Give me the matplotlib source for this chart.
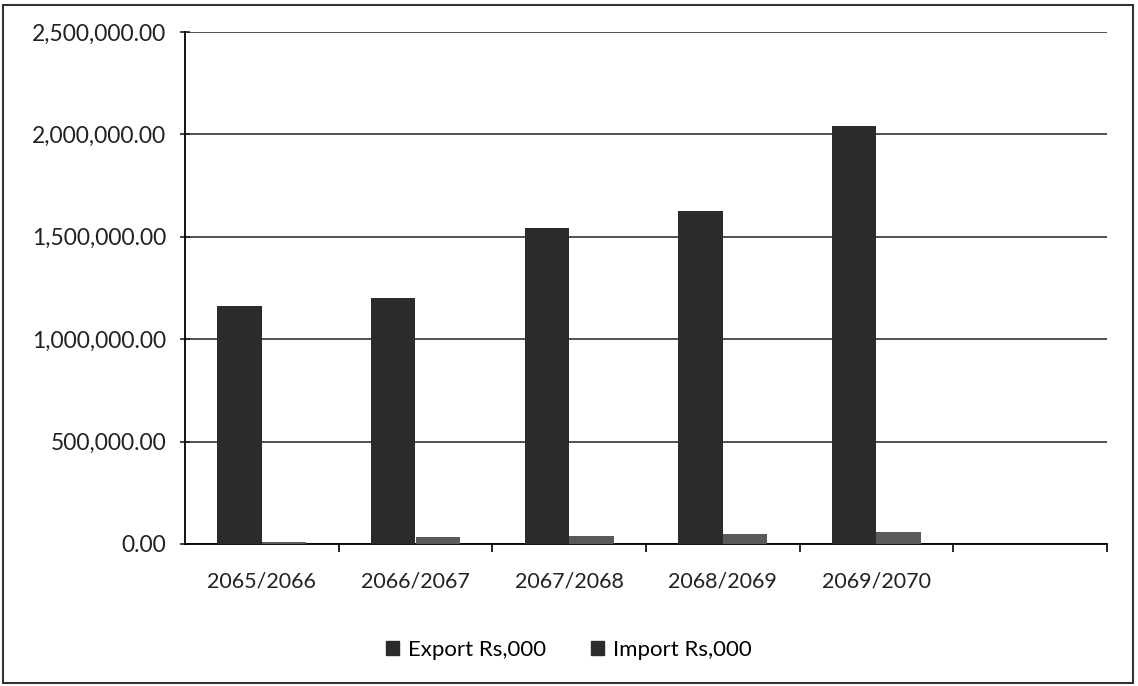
import matplotlib.pyplot as plt
import numpy as np
from matplotlib.patches import Rectangle

categories = ["2065/2066", "2066/2067", "2067/2068", "2068/2069", "2069/2070", ""]
export_vals = [1160000, 1200000, 1545000, 1625000, 2040000, 0]
import_vals = [10000, 34000, 40000, 50000, 58000, 0]

plt.rcParams['font.family'] = ['Lato', 'DejaVu Sans']

fig = plt.figure(figsize=(11.38, 6.86), dpi=100)
ax = fig.add_axes([185/1138, 1 - 544/686, (1107-185)/1138, (544-32)/686])

x = np.arange(len(categories))
w = 0.29
ax.bar(x[:5] - w/2, export_vals[:5], w, color="#2b2b2b", label="Export Rs,000", zorder=3)
ax.bar(x[:5] + w/2, import_vals[:5], w, color="#5a5a5a", label="Import Rs,000", zorder=3)

ax.set_xlim(-0.5, len(categories) - 0.5)
ax.set_ylim(0, 2500000)
ax.set_yticks(np.arange(0, 2500001, 500000))
ax.set_yticklabels([f"{v:,.2f}" for v in np.arange(0, 2500001, 500000)])
ax.set_xticks(x[:5])
ax.set_xticklabels(categories[:5])
ax.set_xticks(np.arange(0.5, len(categories), 1), minor=True)
ax.tick_params(axis="x", which="major", length=0, pad=20, labelsize=15.5, colors="#222222")
ax.tick_params(axis="x", which="minor", length=6, direction="out", width=1.2)
ax.tick_params(axis="y", length=7, direction="inout", width=1.2, labelsize=16.5, pad=10, colors="#222222")
ax.grid(axis="y", color="#222222", linewidth=1.1, zorder=0)
for s in ["top", "right"]:
    ax.spines[s].set_visible(False)
ax.spines["left"].set_linewidth(1.3)
ax.spines["bottom"].set_linewidth(1.3)

leg = fig.legend(loc="center", bbox_to_anchor=(0.5, 1 - 650/686), ncol=2, frameon=False,
                 fontsize=16, handlelength=0.6, handleheight=0.6, columnspacing=2.0, handletextpad=0.4)
for h in leg.legend_handles:
    h.set_color("#2b2b2b")

fig.patches.append(Rectangle((3/1138, 3/686), 1 - 8/1138, 1 - 8/686, transform=fig.transFigure,
                             fill=False, edgecolor="#333333", linewidth=1.5))

fig.savefig("out.png", dpi=100)
